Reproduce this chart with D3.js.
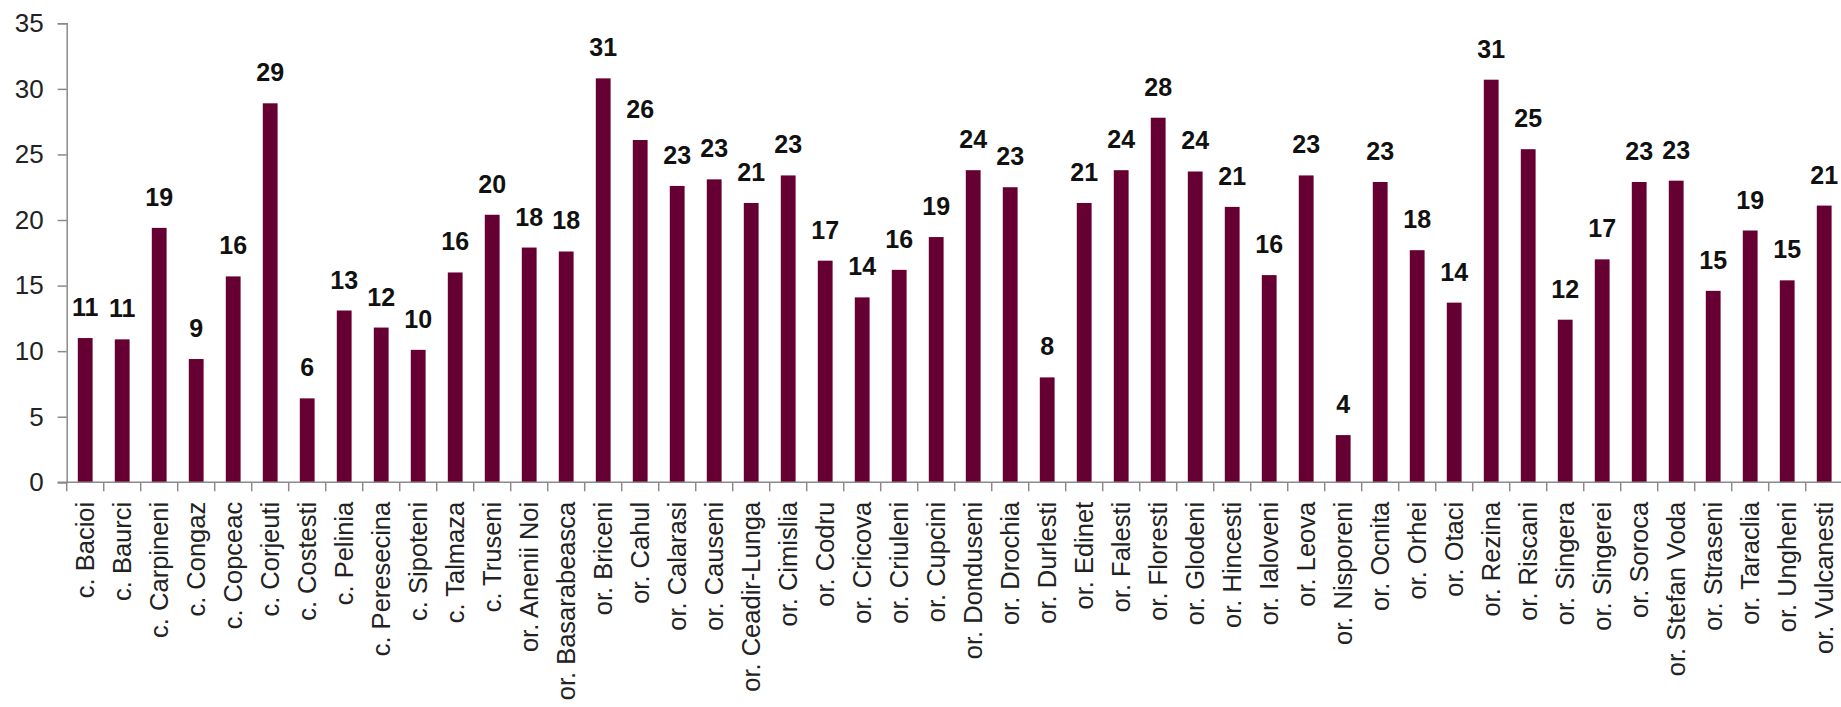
<!DOCTYPE html>
<html>
<head>
<meta charset="utf-8">
<script src="https://cdn.jsdelivr.net/npm/d3@7"></script>
<style>
  body { margin: 0; background: #fff; }
  svg { display: block; font-family: "Liberation Sans", Arial, sans-serif; }
</style>
</head>
<body>
<svg width="1841" height="707"></svg>
<script>
// categories (localities), left to right
const categories = [
  "c. Bacioi", "c. Baurci", "c. Carpineni", "c. Congaz", "c. Copceac", "c. Corjeuti",
  "c. Costesti", "c. Pelinia", "c. Peresecina", "c. Sipoteni", "c. Talmaza", "c. Truseni",
  "or. Anenii Noi", "or. Basarabeasca", "or. Briceni", "or. Cahul", "or. Calarasi", "or. Causeni",
  "or. Ceadir-Lunga", "or. Cimislia", "or. Codru", "or. Cricova", "or. Criuleni", "or. Cupcini",
  "or. Donduseni", "or. Drochia", "or. Durlesti", "or. Edinet", "or. Falesti", "or. Floresti",
  "or. Glodeni", "or. Hincesti", "or. Ialoveni", "or. Leova", "or. Nisporeni", "or. Ocnita",
  "or. Orhei", "or. Otaci", "or. Rezina", "or. Riscani", "or. Singera", "or. Singerei",
  "or. Soroca", "or. Stefan Voda", "or. Straseni", "or. Taraclia", "or. Ungheni", "or. Vulcanesti"
]

// bar values
const values = [
  11.0, 10.9, 19.4, 9.4, 15.7, 28.9,
  6.4, 13.1, 11.8, 10.1, 16.0, 20.4,
  17.9, 17.6, 30.8, 26.1, 22.6, 23.1,
  21.3, 23.4, 16.9, 14.1, 16.2, 18.7,
  23.8, 22.5, 8.0, 21.3, 23.8, 27.8,
  23.7, 21.0, 15.8, 23.4, 3.6, 22.9,
  17.7, 13.7, 30.7, 25.4, 12.4, 17.0,
  22.9, 23.0, 14.6, 19.2, 15.4, 21.1
]

const yTicks = [0, 5, 10, 15, 20, 25, 30, 35]

const data = categories.map((c, i) => ({ name: c, value: values[i] }))

var svg = d3.select("svg"),
    plotLeft = 66.7,
    plotRight = 1842.7,
    plotTop = 23.3,
    plotBottom = 482.3;

var x = d3.scaleBand()
    .domain(categories)
    .range([plotLeft, plotRight])
    .paddingInner(0.6)
    .paddingOuter(0.3);

var y = d3.scaleLinear()
    .domain([0, 35])
    .range([plotBottom, plotTop]);

const axisColor = "#8a8a8a"

// bars
svg.append("g")
  .selectAll("rect")
  .data(data)
  .join("rect")
    .attr("x", d => x(d.name))
    .attr("y", d => y(d.value))
    .attr("width", x.bandwidth())
    .attr("height", d => y(0) - y(d.value))
    .attr("fill", "#660033");

// value labels
svg.append("g")
  .selectAll("text")
  .data(data)
  .join("text")
    .attr("x", d => x(d.name) + x.bandwidth() / 2)
    .attr("y", d => y(d.value) - 22)
    .attr("text-anchor", "middle")
    .attr("font-size", 25)
    .attr("font-weight", "bold")
    .attr("fill", "#111")
    .text(d => Math.round(d.value));

// y axis
var yAxis = svg.append("g")
    .attr("transform", `translate(${plotLeft},0)`)
    .call(d3.axisLeft(y).tickValues(yTicks).tickSize(9).tickPadding(14));

yAxis.selectAll("line, path").attr("stroke", axisColor).attr("stroke-width", 1.5);
yAxis.selectAll("text")
    .attr("font-size", 26)
    .attr("font-family", "Liberation Sans, Arial, sans-serif")
    .attr("fill", "#222");

// x axis: baseline, ticks between categories, rotated labels
var xAxis = svg.append("g");

xAxis.append("line")
    .attr("x1", plotLeft - 9)
    .attr("x2", 1841)
    .attr("y1", y(0))
    .attr("y2", y(0))
    .attr("stroke", axisColor)
    .attr("stroke-width", 1.5);

xAxis.selectAll(".tick")
  .data(categories)
  .join("line")
    .attr("class", "tick")
    .attr("x1", d => x(d) + x.bandwidth() / 2 - x.step() / 2)
    .attr("x2", d => x(d) + x.bandwidth() / 2 - x.step() / 2)
    .attr("y1", y(0))
    .attr("y2", y(0) + 9)
    .attr("stroke", axisColor)
    .attr("stroke-width", 1.5);

xAxis.selectAll(".label")
  .data(categories)
  .join("text")
    .attr("class", "label")
    .attr("transform", d => `translate(${x(d) + x.bandwidth() / 2},${y(0) + 19.5}) rotate(-90)`)
    .attr("dy", "0.36em")
    .attr("text-anchor", "end")
    .attr("font-size", 25.5)
    .attr("fill", "#222")
    .text(d => d);
</script>
</body>
</html>
